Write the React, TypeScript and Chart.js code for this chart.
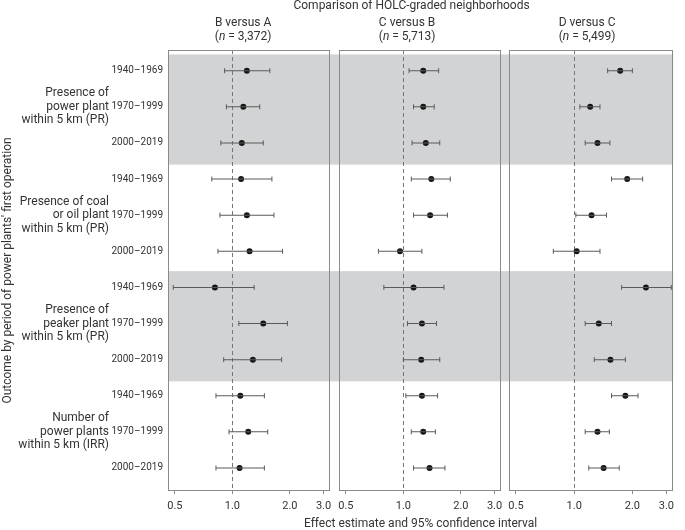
import React, { useEffect, useRef } from 'react';
import { Chart, registerables } from 'chart.js';

Chart.register(...registerables);

// ---------- data ----------
const periods = ['1940–1969', '1970–1999', '2000–2019'];
const outcomes = [
  ['Presence of', 'power plant', 'within 5 km (PR)'],
  ['Presence of coal', 'or oil plant', 'within 5 km (PR)'],
  ['Presence of', 'peaker plant', 'within 5 km (PR)'],
  ['Number of', 'power plants', 'within 5 km (IRR)'],
];
const shadedOutcomes = [0, 2];
const comparisons = ['B versus A', 'C versus B', 'D versus C'];
const sampleSizes = ['3,372', '5,713', '5,499'];
const xTickValues = [0.5, 1, 2, 3];

const estBA = [1.19, 1.14, 1.12, 1.11, 1.19, 1.23, 0.81, 1.45, 1.28, 1.10, 1.21, 1.09];
const lowBA = [0.91, 0.93, 0.87, 0.78, 0.86, 0.84, 0.49, 1.08, 0.90, 0.82, 0.96, 0.82];
const highBA = [1.57, 1.39, 1.45, 1.61, 1.65, 1.83, 1.30, 1.94, 1.81, 1.47, 1.53, 1.47];

const estCB = [1.27, 1.27, 1.31, 1.40, 1.38, 0.96, 1.13, 1.25, 1.24, 1.25, 1.27, 1.37];
const lowCB = [1.07, 1.13, 1.11, 1.10, 1.13, 0.74, 0.79, 1.05, 1.00, 1.03, 1.10, 1.13];
const highCB = [1.53, 1.45, 1.55, 1.76, 1.70, 1.25, 1.63, 1.49, 1.55, 1.51, 1.47, 1.65];

const estDC = [1.73, 1.21, 1.32, 1.88, 1.23, 1.03, 2.35, 1.34, 1.54, 1.84, 1.32, 1.42];
const lowDC = [1.49, 1.07, 1.14, 1.56, 1.02, 0.78, 1.76, 1.14, 1.27, 1.56, 1.14, 1.19];
const highDC = [2.00, 1.36, 1.53, 2.26, 1.47, 1.36, 3.18, 1.56, 1.84, 2.14, 1.52, 1.71];

// ---------- styling ----------
const FONT = "Roboto, 'Noto Sans', 'DejaVu Sans', sans-serif";
const TEXT = '#333333';
const BAND = '#d2d3d5';
const FRAME = '#8a8a8a';
const BAR = '#5a5a5a';
const DOT = '#161616';

const rows = outcomes.flatMap((_, g) => periods.map((__, p) => g * 3 + p + 1));
const Y_MIN = 0.427;
const Y_MAX = 12.637;

const panels = [
  { id: 'x1', est: estBA, low: lowBA, high: highBA, shift: -6 },
  { id: 'x2', est: estCB, low: lowCB, high: highCB, shift: -13 },
  { id: 'x3', est: estDC, low: lowDC, high: highDC, shift: -4 },
];

const panelPlugin = {
  id: 'panelDecor',
  beforeDraw(chart: any) {
    const { ctx, chartArea, scales } = chart;
    const y = scales.y;
    ctx.save();
    ctx.fillStyle = BAND;
    shadedOutcomes.forEach((g) => {
      const first = g * 3 + 1;
      const last = g * 3 + 3;
      const top = y.getPixelForValue(Math.max(Y_MIN, first - 0.45));
      const bot = y.getPixelForValue(Math.min(Y_MAX, last + 0.6));
      ctx.fillRect(chartArea.left, top, chartArea.right - chartArea.left, bot - top);
    });
    ctx.restore();
  },
  beforeDatasetsDraw(chart: any) {
    const { ctx, chartArea, scales } = chart;
    ctx.save();
    panels.forEach((p) => {
      const s = scales[p.id];
      const xr = Math.round(s.getPixelForValue(1)) + 0.5;
      ctx.strokeStyle = '#777777';
      ctx.lineWidth = 1;
      ctx.setLineDash([4, 3]);
      ctx.beginPath();
      ctx.moveTo(xr, chartArea.top);
      ctx.lineTo(xr, chartArea.bottom);
      ctx.stroke();
      ctx.setLineDash([]);
      ctx.strokeStyle = FRAME;
      ctx.strokeRect(Math.round(s.left) + 0.5, chartArea.top + 0.5, Math.round(s.right - s.left) - 1, chartArea.bottom - chartArea.top - 1);
    });
    ctx.restore();
  },
  afterDraw(chart: any) {
    const { ctx, chartArea, scales } = chart;
    ctx.save();
    ctx.fillStyle = TEXT;
    ctx.textBaseline = 'middle';
    ctx.textAlign = 'center';
    ctx.font = `12px ${FONT}`;
    ctx.fillText('Comparison of HOLC-graded neighborhoods', (chartArea.left + chartArea.right) / 2 - 9, chartArea.top - 44);
    panels.forEach((p, i) => {
      const s = scales[p.id];
      const cx = (s.left + s.right) / 2 + p.shift;
      ctx.textAlign = 'center';
      ctx.font = `12px ${FONT}`;
      ctx.fillText(comparisons[i], cx, chartArea.top - 27);
      const a = '(';
      const b = 'n';
      const c = ` = ${sampleSizes[i]})`;
      ctx.font = `12px ${FONT}`;
      const wa = ctx.measureText(a).width;
      const wc = ctx.measureText(c).width;
      ctx.font = `italic 12px ${FONT}`;
      const wb = ctx.measureText(b).width;
      let x = cx - (wa + wb + wc) / 2;
      const yy = chartArea.top - 13;
      ctx.textAlign = 'left';
      ctx.font = `12px ${FONT}`;
      ctx.fillText(a, x, yy);
      x += wa;
      ctx.font = `italic 12px ${FONT}`;
      ctx.fillText(b, x, yy);
      x += wb;
      ctx.font = `12px ${FONT}`;
      ctx.fillText(c, x, yy);
    });
    ctx.restore();
  },
};

function xAxis(weight: number) {
  return {
    type: 'logarithmic',
    position: 'bottom',
    stack: 'panels',
    stackWeight: weight,
    min: 0.46,
    max: 3.25,
    bounds: 'data',
    beginAtZero: false,
    offset: false,
    afterBuildTicks: (s: any) => {
      s.ticks = xTickValues.map((v) => ({ value: v }));
    },
    afterFit: (s: any) => {
      s.height = 26;
    },
    ticks: {
      autoSkip: false,
      maxRotation: 0,
      padding: 6,
      color: TEXT,
      font: { size: 11, family: FONT },
      callback: (v: any) => Number(v).toFixed(1),
    },
    grid: { display: true, drawOnChartArea: false, drawTicks: true, tickLength: 3, color: FRAME },
    border: { display: false },
  };
}

function gapAxis(weight: number) {
  return {
    type: 'linear',
    position: 'bottom',
    stack: 'panels',
    stackWeight: weight,
    display: false,
  };
}

function yAxisBase() {
  return {
    type: 'linear',
    position: 'left',
    reverse: true,
    offset: false,
    min: Y_MIN,
    max: Y_MAX,
    bounds: 'data',
    grid: { display: false, drawTicks: false, tickLength: 0 },
    border: { display: false },
  };
}

export default function App() {
  const ref = useRef<HTMLCanvasElement>(null);

  useEffect(() => {
    if (!ref.current) return;
    const datasets: any[] = [];
    panels.forEach((p) => {
      datasets.push({
        type: 'bar',
        indexAxis: 'y',
        xAxisID: p.id,
        yAxisID: 'y',
        data: rows.map((r, i) => ({ x: [p.low[i], p.high[i]], y: r })),
        backgroundColor: BAR,
        borderWidth: 0,
        barThickness: 1,
        inflateAmount: 0,
        grouped: false,
      });
      datasets.push({
        type: 'scatter',
        xAxisID: p.id,
        yAxisID: 'y',
        data: rows.flatMap((r, i) => [
          { x: p.low[i], y: r },
          { x: p.high[i], y: r },
        ]),
        pointStyle: 'line',
        rotation: 90,
        pointRadius: 2.5,
        borderColor: BAR,
        borderWidth: 1,
      });
      datasets.push({
        type: 'scatter',
        xAxisID: p.id,
        yAxisID: 'y',
        data: rows.map((r, i) => ({ x: p.est[i], y: r })),
        pointRadius: 3,
        pointStyle: 'circle',
        backgroundColor: DOT,
        borderWidth: 0,
      });
    });

    const chart = new Chart(ref.current, {
      type: 'scatter',
      data: { datasets },
      plugins: [panelPlugin],
      options: {
        animation: false,
        responsive: false,
        events: [],
        layout: { padding: { top: 50, left: 0, right: 0, bottom: 0 } },
        plugins: { legend: { display: false }, tooltip: { enabled: false }, title: { display: false } },
        scales: {
          y: {
            ...yAxisBase(),
            afterBuildTicks: (s: any) => {
              s.ticks = rows.map((v) => ({ value: v }));
            },
            afterFit: (s: any) => {
              s.width = 56;
            },
            ticks: {
              autoSkip: false,
              padding: 5,
              color: TEXT,
              font: { size: 10, family: FONT },
              callback: (v: any) => periods[(Math.round(v) - 1) % 3],
            },
          },
          yg: {
            ...yAxisBase(),
            afterBuildTicks: (s: any) => {
              s.ticks = outcomes.map((_, g) => ({ value: g * 3 + 2 }));
            },
            afterFit: (s: any) => {
              s.width = 112;
            },
            ticks: {
              autoSkip: false,
              padding: 3,
              color: TEXT,
              font: { size: 12, family: FONT, lineHeight: 1.125 },
              callback: (v: any) => outcomes[Math.round((v - 2) / 3)],
            },
            title: {
              display: true,
              text: "Outcome by period of power plants' first operation",
              color: TEXT,
              font: { size: 12, family: FONT, lineHeight: 1.2 },
              padding: { top: 1, bottom: 0 },
            },
          },
          x1: xAxis(166),
          g1: gapAxis(9),
          x2: xAxis(166),
          g2: gapAxis(8),
          x3: xAxis(168),
          xt: {
            type: 'linear',
            position: 'bottom',
            min: 0,
            max: 1,
            offset: false,
            afterFit: (s: any) => {
              s.height = 13;
            },
            ticks: { display: false },
            grid: { display: false, drawTicks: false },
            border: { display: false },
            title: {
              display: true,
              text: 'Effect estimate and 95% confidence interval',
              color: TEXT,
              font: { size: 12, family: FONT, lineHeight: 1 },
              padding: { top: 0, bottom: 0 },
            },
          },
        } as any,
      } as any,
    } as any);
    return () => chart.destroy();
  }, []);

  return (
    <div style={{ position: 'fixed', left: 0, top: 0, width: 685, height: 530, background: '#fff' }}>
      <canvas ref={ref} width={685} height={530} style={{ display: 'block', width: 685, height: 530 }} />
    </div>
  );
}
